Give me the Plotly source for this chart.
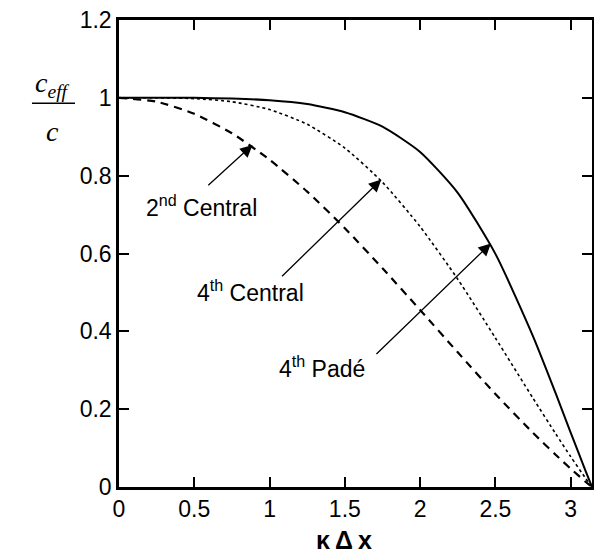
import plotly.graph_objects as go

# Values
kdx = [0, 0.25, 0.5, 0.75, 1.0, 1.25, 1.5, 1.75, 2.0, 2.25, 2.5, 2.75, 2.9, 3.0, 3.1, 3.1416]
central2 = [1.0, 0.990, 0.959, 0.909, 0.841, 0.759, 0.665, 0.562, 0.455, 0.346, 0.239, 0.139, 0.083, 0.047, 0.013, 0.0]
central4 = [1.0, 1.0, 0.998, 0.990, 0.970, 0.932, 0.871, 0.783, 0.669, 0.534, 0.383, 0.228, 0.137, 0.078, 0.022, 0.0]
pade4 = [1.0, 1.0, 1.0, 0.998, 0.994, 0.984, 0.963, 0.926, 0.861, 0.756, 0.599, 0.387, 0.241, 0.140, 0.040, 0.0]

x_tickvals = [0, 0.5, 1, 1.5, 2, 2.5, 3]
x_ticktext = ["0", "0.5", "1", "1.5", "2", "2.5", "3"]
y_tickvals = [0, 0.2, 0.4, 0.6, 0.8, 1.0, 1.2]
y_ticktext = ["0", "0.2", "0.4", "0.6", "0.8", "1", "1.2"]

labels = ["2<sup>nd</sup> Central", "4<sup>th</sup> Central", "4<sup>th</sup> Padé"]
label_pos = [(0.55, 0.723), (0.874, 0.503), (1.35, 0.308)]
arrow_tips = [(0.887, 0.879), (1.742, 0.790), (2.47, 0.626)]
arrow_tails = [(0.583, 0.772), (1.073, 0.538), (1.70, 0.338)]

FONT = "Liberation Sans, Arial"
SERIF = "Liberation Serif, Times New Roman, serif"

fig = go.Figure()
fig.add_trace(go.Scatter(x=kdx, y=central2, mode="lines",
                         line=dict(color="black", width=2.2, dash="8px,6px", shape="spline", smoothing=0.6)))
fig.add_trace(go.Scatter(x=kdx, y=central4, mode="lines",
                         line=dict(color="black", width=1.6, dash="dot", shape="spline", smoothing=0.6)))
fig.add_trace(go.Scatter(x=kdx, y=pade4, mode="lines",
                         line=dict(color="black", width=2.0, shape="spline", smoothing=0.6)))

for (tx, ty), (ax, ay) in zip(arrow_tips, arrow_tails):
    fig.add_annotation(x=tx, y=ty, ax=ax, ay=ay, xref="x", yref="y", axref="x", ayref="y",
                       text="", showarrow=True, arrowhead=2, arrowsize=1.9, arrowwidth=1.3,
                       arrowcolor="black")

for lab, (lx, ly) in zip(labels, label_pos):
    fig.add_annotation(x=lx, y=ly, xref="x", yref="y", text=lab, showarrow=False,
                       xanchor="center", yanchor="middle",
                       font=dict(family=FONT, size=23, color="black"))

# y-axis title as a fraction c_eff / c
fig.add_annotation(x=-0.141, y=0.862, xref="paper", yref="paper", text="<i>c<sub>eff</sub></i>",
                   showarrow=False, xanchor="center", yanchor="middle",
                   font=dict(family=SERIF, size=28, color="black"))
fig.add_annotation(x=-0.141, y=0.762, xref="paper", yref="paper", text="<i>c</i>",
                   showarrow=False, xanchor="center", yanchor="middle",
                   font=dict(family=SERIF, size=28, color="black"))
fig.add_shape(type="line", xref="paper", yref="paper", x0=-0.184, x1=-0.093, y0=0.822, y1=0.822,
              line=dict(color="black", width=1.5))

# x-axis title
fig.add_annotation(x=0.476, y=-0.113, xref="paper", yref="paper", text="<b>κ\u2009Δ\u2009x</b>",
                   showarrow=False, xanchor="center", yanchor="middle",
                   font=dict(family=FONT, size=25, color="black"))

axis_common = dict(showgrid=False, zeroline=False, showline=True, linecolor="black", linewidth=2.5,
                   mirror="ticks", ticks="inside", ticklen=10, tickwidth=1.5, tickcolor="black",
                   automargin=False, tickfont=dict(family=FONT, size=23, color="black"))

fig.update_xaxes(range=[0, 3.1416], tickvals=x_tickvals, ticktext=x_ticktext, **axis_common)
fig.update_yaxes(range=[0, 1.2], tickvals=y_tickvals, ticktext=y_ticktext, **axis_common)

fig.update_layout(width=594, height=556, showlegend=False,
                  margin=dict(l=119, r=2, t=20, b=69, autoexpand=False),
                  plot_bgcolor="white", paper_bgcolor="white")

fig.write_html("out.html", config={"displayModeBar": False},
               post_script="document.body.style.margin='0';document.body.style.overflow='hidden';")
